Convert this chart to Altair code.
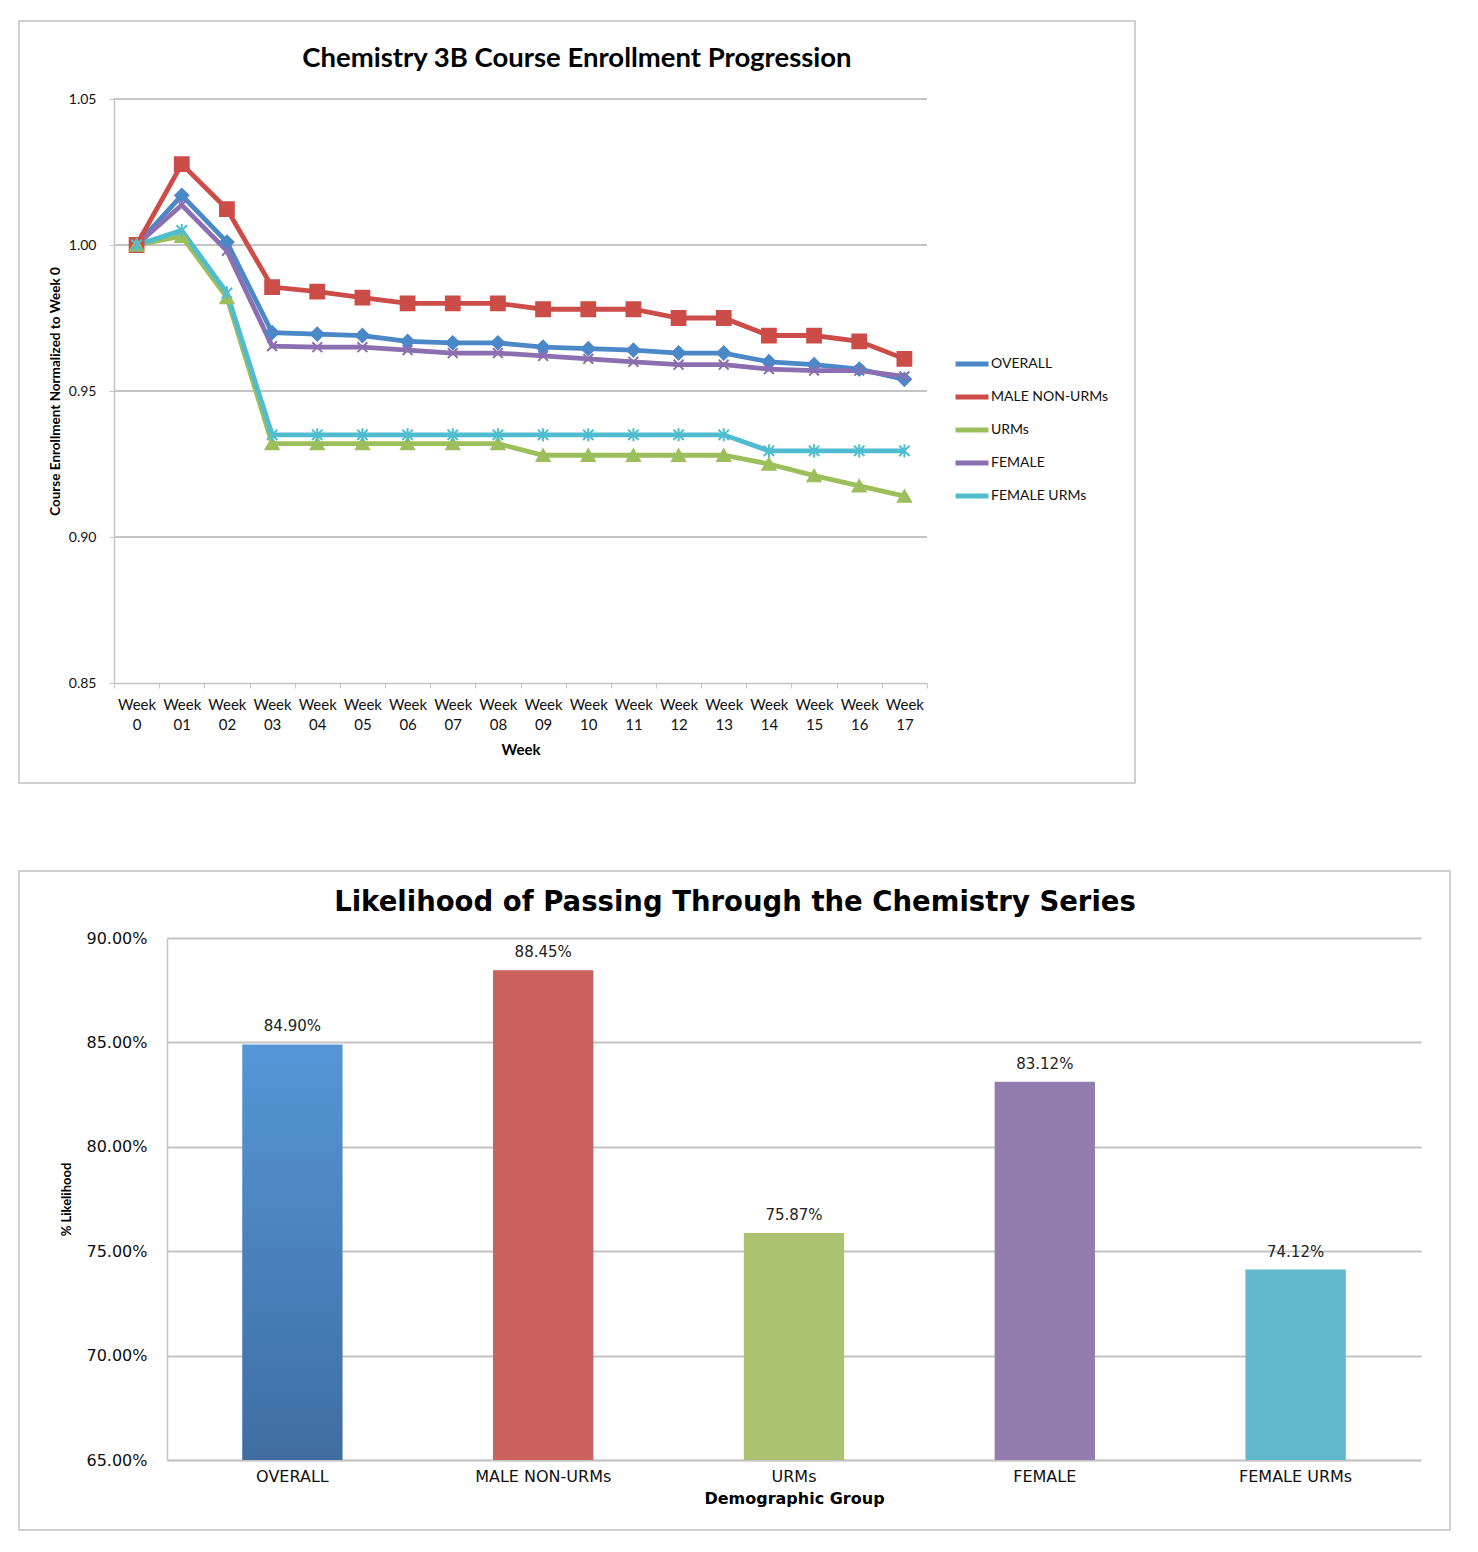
import altair as alt
import pandas as pd

# ---------------- data: top chart ----------------
weeks = ["Week 0", "Week 01", "Week 02", "Week 03", "Week 04", "Week 05", "Week 06",
         "Week 07", "Week 08", "Week 09", "Week 10", "Week 11", "Week 12", "Week 13",
         "Week 14", "Week 15", "Week 16", "Week 17"]
series_names = ["OVERALL", "MALE NON-URMs", "URMs", "FEMALE", "FEMALE URMs"]
overall = [1.000, 1.017, 1.001, 0.970, 0.9695, 0.969, 0.967, 0.9665, 0.9665, 0.965,
           0.9645, 0.964, 0.963, 0.963, 0.960, 0.959, 0.9575, 0.954]
male_non_urms = [1.000, 1.0277, 1.0123, 0.9856, 0.984, 0.982, 0.980, 0.980, 0.980, 0.978,
                 0.978, 0.978, 0.975, 0.975, 0.969, 0.969, 0.967, 0.961]
urms = [1.000, 1.003, 0.982, 0.932, 0.932, 0.932, 0.932, 0.932, 0.932, 0.928,
        0.928, 0.928, 0.928, 0.928, 0.925, 0.921, 0.9175, 0.914]
female = [1.000, 1.0137, 0.998, 0.9654, 0.965, 0.965, 0.964, 0.963, 0.963, 0.962,
          0.961, 0.960, 0.959, 0.959, 0.9575, 0.957, 0.957, 0.955]
female_urms = [1.000, 1.005, 0.9836, 0.935, 0.935, 0.935, 0.935, 0.935, 0.935, 0.935,
               0.935, 0.935, 0.935, 0.935, 0.9295, 0.9295, 0.9295, 0.9295]
y_ticks_top = [0.85, 0.90, 0.95, 1.00, 1.05]
line_colors = ["#4a88c8", "#cc4c48", "#9cbf5b", "#8c6fb0", "#4fbcd0"]
marker_shapes = ["diamond", "square", "triangle-up",
                 "M-0.8,-0.8L0.8,0.8M-0.8,0.8L0.8,-0.8",
                 "M-0.8,-0.8L0.8,0.8M-0.8,0.8L0.8,-0.8M0,-1L0,1"]
marker_sizes = [170, 190, 170, 150, 170]
top_title = "Chemistry 3B Course Enrollment Progression"
top_y_title = "Course Enrollment Normalized to Week 0"
top_x_title = "Week"

# ---------------- data: bottom chart ----------------
groups = ["OVERALL", "MALE NON-URMs", "URMs", "FEMALE", "FEMALE URMs"]
likelihood = [0.8490, 0.8845, 0.7587, 0.8312, 0.7412]
bar_colors = ["#4a88c8", "#c9625f", "#abc270", "#927bad", "#5fb8cc"]
bottom_title = "Likelihood of Passing Through the Chemistry Series"
bottom_y_title = "% Likelihood"
bottom_x_title = "Demographic Group"
y_min, y_max = 0.65, 0.90
y_ticks_bot = [0.65, 0.70, 0.75, 0.80, 0.85, 0.90]

# ---------------- top chart ----------------
rows = []
for name, vals in zip(series_names, [overall, male_non_urms, urms, female, female_urms]):
    for w, v in zip(weeks, vals):
        rows.append({"week": w, "series": name, "value": v})
df_top = pd.DataFrame(rows)

# Both panels share the same plot origin in the concat layout; the top panel's
# plot area starts SHIFT px further left, handled through its scale range.
SHIFT = 53
TW, TH = 760, 584
GRID = "#c4c4c4"

color_scale = alt.Scale(domain=series_names, range=line_colors)
x_top = alt.X("week:O", sort=weeks,
              scale=alt.Scale(type="band", paddingInner=0, paddingOuter=0,
                              range=[-SHIFT, TW]),
              bandPosition=0.5,
              axis=alt.Axis(title=top_x_title, labelAngle=0,
                            labelExpr="split(datum.label, ' ')",
                            tickBand="extent", tickSize=5, tickColor=GRID,
                            domainColor=GRID, domainWidth=1.5,
                            labelFont="Lato", labelFontSize=15, labelColor="#111",
                            labelLineHeight=20, labelPadding=9,
                            titleFont="Lato", titleFontSize=15, titleFontWeight="bold",
                            titleColor="#000", titlePadding=10))
y_scale_top = alt.Scale(domain=[0.85, 1.05], zero=False, nice=False)
y_top = alt.Y("value:Q", scale=y_scale_top,
              axis=alt.Axis(title=top_y_title, values=y_ticks_top, offset=SHIFT,
                            format=".2f", grid=False,
                            tickSize=5, tickColor=GRID, domainColor=GRID, domainWidth=1.5,
                            labelFont="Lato", labelFontSize=14, labelColor="#111",
                            labelPadding=13,
                            titleFont="Lato", titleFontSize=13.5, titleFontWeight="bold",
                            titleColor="#000", titlePadding=6))

grid_top = alt.Chart(pd.DataFrame({"value": y_ticks_top[1:]})).mark_rule(
    color=GRID, strokeWidth=1.8).encode(
    y=alt.Y("value:Q", scale=y_scale_top), x=alt.value(-SHIFT), x2=alt.value(TW))

lines = alt.Chart(df_top).mark_line(strokeWidth=4.8).encode(
    x=x_top, y=y_top,
    color=alt.Color("series:N", scale=color_scale,
                    legend=alt.Legend(title=None, orient="none",
                                      legendX=955 - 113 - SHIFT - 3, legendY=246,
                                      symbolType="stroke", symbolSize=1089,
                                      symbolStrokeWidth=5, labelFont="Lato",
                                      labelFontSize=14, labelColor="#111",
                                      labelOffset=0, rowPadding=4)),
)
point_layers = []
for name, col, shp, sz in zip(series_names, line_colors, marker_shapes, marker_sizes):
    point_layers.append(
        alt.Chart(df_top).transform_filter(alt.datum.series == name).mark_point(
            shape=shp, filled=True, fill=col, stroke=col, strokeWidth=2,
            size=sz, opacity=1).encode(x=x_top, y=y_top)
    )

frame_top = alt.Chart(pd.DataFrame({"f": [0]})).mark_rect(
    fillOpacity=0, stroke="#c2c2c2", strokeWidth=1.5).encode(
    x=alt.value(-95 - SHIFT), x2=alt.value(TW + 208), y=alt.value(-78), y2=alt.value(TH + 100))
title_top = alt.Chart(pd.DataFrame({"t": [top_title]})).mark_text(
    font="Lato", fontSize=27.5, fontWeight="bold", color="#000",
    align="center", baseline="middle").encode(
    text="t:N", x=alt.value(463 - SHIFT), y=alt.value(-40))

top = alt.layer(frame_top, grid_top, lines, *point_layers, title_top).properties(
    width=TW, height=TH)

# ---------------- bottom chart ----------------
df_bot = pd.DataFrame({"group": groups, "value": likelihood})
BW, BH = 1254, 522

x_bot = alt.X("group:N", sort=groups, scale=alt.Scale(paddingInner=0.6, paddingOuter=0.3),
              axis=alt.Axis(title=bottom_x_title, labelAngle=0, ticks=False,
                            domainColor=GRID, domainWidth=1.5,
                            labelFont="DejaVu Sans", labelFontSize=16, labelColor="#111",
                            labelPadding=8,
                            titleFont="DejaVu Sans", titleFontSize=16, titleFontWeight="bold",
                            titleColor="#000", titlePadding=6))
y_bot = alt.Y("value:Q", scale=alt.Scale(domain=[y_min, y_max], zero=False, nice=False),
              axis=alt.Axis(title=bottom_y_title, values=y_ticks_bot,
                            format=".2%", grid=True, gridColor=GRID, gridWidth=1.8,
                            ticks=False, domainColor=GRID, domainWidth=1.5,
                            labelFont="DejaVu Sans", labelFontSize=16, labelColor="#111",
                            labelPadding=20,
                            titleFont="Lato", titleFontSize=13, titleFontWeight="bold",
                            titleColor="#000", titlePadding=12))

bars = alt.Chart(df_bot).transform_filter(alt.datum.group != "OVERALL").mark_bar().encode(
    x=x_bot, y=y_bot, y2=alt.datum(y_min),
    color=alt.Color("group:N", scale=alt.Scale(domain=groups, range=bar_colors), legend=None),
)
bar_overall = alt.Chart(df_bot).transform_filter(alt.datum.group == "OVERALL").mark_bar(
    color=alt.Gradient(gradient="linear",
                       stops=[alt.GradientStop(color="#5596d6", offset=0),
                              alt.GradientStop(color="#3f6da2", offset=1)],
                       x1=0, x2=0, y1=0, y2=1)).encode(
    x=x_bot, y=y_bot, y2=alt.datum(y_min))
labels = alt.Chart(df_bot).mark_text(font="DejaVu Sans", fontSize=15, color="#222",
                                     dy=-18, baseline="middle").encode(
    x=x_bot, y=y_bot, text=alt.Text("value:Q", format=".2%"))
frame_bot = alt.Chart(pd.DataFrame({"f": [0]})).mark_rect(
    fillOpacity=0, stroke="#c2c2c2", strokeWidth=1.5).encode(
    x=alt.value(-148), x2=alt.value(BW + 29), y=alt.value(-67), y2=alt.value(BH + 70))
title_bot = alt.Chart(pd.DataFrame({"t": [bottom_title]})).mark_text(
    font="DejaVu Sans", fontSize=27.5, fontWeight="bold", color="#000",
    align="center", baseline="middle").encode(
    text="t:N", x=alt.value(568), y=alt.value(-35))

bottom = alt.layer(frame_bot, bars, bar_overall, labels, title_bot).properties(width=BW, height=BH)

chart = alt.vconcat(top, bottom, spacing=86).resolve_scale(
    color="independent"
).properties(
    padding={"left": 10, "top": 12, "right": 5, "bottom": 5}
).configure_view(stroke=None)

chart.save("out.html", embed_options={"renderer": "svg", "actions": False})
